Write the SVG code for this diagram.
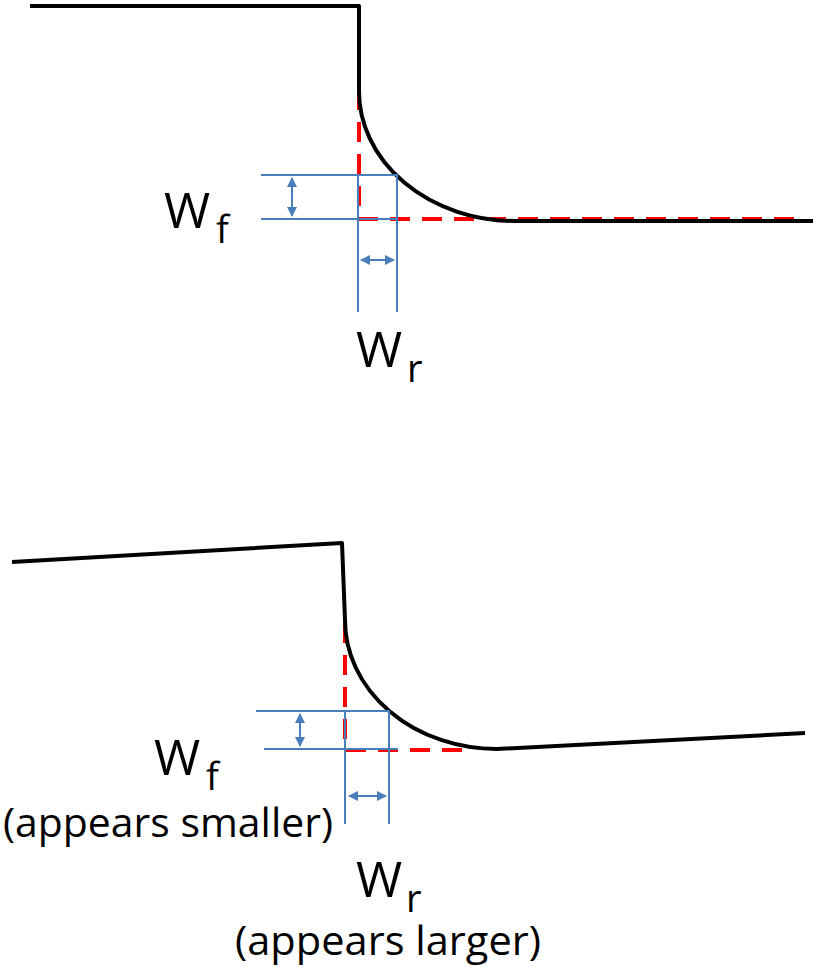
<svg xmlns="http://www.w3.org/2000/svg" width="813" height="967" viewBox="0 0 813 967">
<style>
.prof{fill:none;stroke:#000;stroke-width:4;stroke-linejoin:round}
.ref{fill:none;stroke:#ff0000;stroke-width:4;stroke-dasharray:20 12}
.dim{fill:none;stroke:#4a7ebb;stroke-width:2}
.arr{fill:none;stroke:#4a7ebb;stroke-width:2;marker-start:url(#ah);marker-end:url(#ah)}
.lbl{font-family:"Open Sans","Noto Sans",sans-serif;font-size:50px;fill:#000}
.sub{font-size:38px}
.note{font-family:"Open Sans","Noto Sans",sans-serif;font-size:41px;fill:#000}
</style>
<defs>
<marker id="ah" viewBox="0 0 10 10" refX="9" refY="5" markerWidth="5" markerHeight="5" orient="auto-start-reverse" markerUnits="strokeWidth">
<path d="M0,0 L10,5 L0,10 z" fill="#4a7ebb"/>
</marker>
</defs>
<rect width="813" height="967" fill="#fff"/>
<g id="top-profile">
<path class="ref" d="M359,90 L359,219 L800,219"/>
<path class="prof" d="M30,6 L359,6 L359,90 A156,130 0 0 0 515,221 L813,221"/>
</g>
<g id="top-dimensions">
<path class="dim" d="M261,175 L398,175 M261,219 L398,219 M358,175 L358,312 M397,175 L397,312"/>
<path class="arr" d="M292,178 L292,216"/>
<path class="arr" d="M361,260 L394,260"/>
</g>
<g id="top-labels">
<text class="lbl" x="164" y="228">W<tspan class="sub" x="216" y="243">f</tspan></text>
<text class="lbl" x="356" y="367">W<tspan class="sub" x="407" y="382">r</tspan></text>
</g>
<g id="bottom-profile">
<path class="ref" d="M345,623 L345,750 L471,750"/>
<path class="prof" d="M12,562 L342,543 L345,620 A152,129 0 0 0 497,749 L805,733"/>
</g>
<g id="bottom-dimensions">
<path class="dim" d="M256,711 L390,711 M264,749 L398,749 M345,711 L345,824 M389,711 L389,824"/>
<path class="arr" d="M300,714 L300,746"/>
<path class="arr" d="M349,796 L386,796"/>
</g>
<g id="bottom-labels">
<text class="lbl" x="154" y="775">W<tspan class="sub" x="206" y="790">f</tspan></text>
<text class="note" x="3" y="837" textLength="330" lengthAdjust="spacingAndGlyphs">(appears smaller)</text>
<text class="lbl" x="356" y="897">W<tspan class="sub" x="406" y="912">r</tspan></text>
<text class="note" x="235" y="955" textLength="306" lengthAdjust="spacingAndGlyphs">(appears larger)</text>
</g>
</svg>
